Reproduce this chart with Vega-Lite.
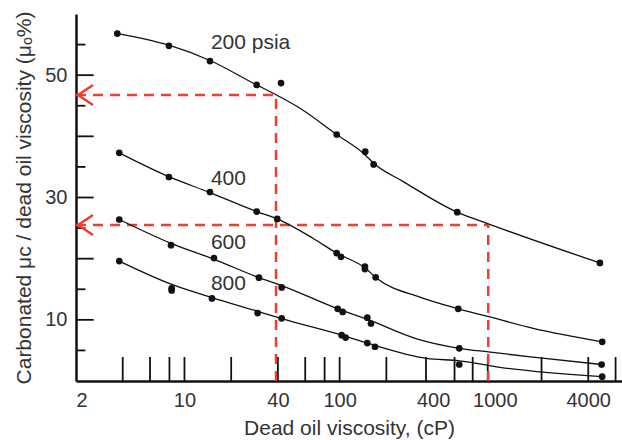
{
  "$schema": "https://vega.github.io/schema/vega-lite/v6.json",
  "width": 546,
  "height": 367,
  "autosize": {"type": "none"},
  "padding": {"left": 76, "top": 14, "right": 0, "bottom": 59},
  "background": "white",
  "config": {
    "view": {"stroke": null},
    "font": "Liberation Sans",
    "text": {"font": "Liberation Sans"}
  },
  "datasets": {
    "points": [
      {"series": "200", "x": 3.69, "y": 56.8}, {"series": "200", "x": 7.94, "y": 54.8}, {"series": "200", "x": 14.6, "y": 52.3},
      {"series": "200", "x": 29.2, "y": 48.4}, {"series": "200", "x": 41.9, "y": 48.7}, {"series": "200", "x": 95.7, "y": 40.3},
      {"series": "200", "x": 146.2, "y": 37.5}, {"series": "200", "x": 165.6, "y": 35.4}, {"series": "200", "x": 572.6, "y": 27.6},
      {"series": "200", "x": 4755, "y": 19.3},
      {"series": "400", "x": 3.8, "y": 37.3}, {"series": "400", "x": 7.94, "y": 33.35}, {"series": "400", "x": 14.6, "y": 30.9},
      {"series": "400", "x": 29.2, "y": 27.7}, {"series": "400", "x": 39.6, "y": 26.5}, {"series": "400", "x": 95.7, "y": 20.9},
      {"series": "400", "x": 102, "y": 20.3}, {"series": "400", "x": 145.5, "y": 18.7}, {"series": "400", "x": 145.5, "y": 18.3},
      {"series": "400", "x": 170.6, "y": 16.95}, {"series": "400", "x": 581, "y": 11.8}, {"series": "400", "x": 4920, "y": 6.4},
      {"series": "600", "x": 3.8, "y": 26.4}, {"series": "600", "x": 8.19, "y": 22.2}, {"series": "600", "x": 15.5, "y": 20.1},
      {"series": "600", "x": 30.2, "y": 16.9}, {"series": "600", "x": 42.3, "y": 15.3}, {"series": "600", "x": 97.1, "y": 11.8},
      {"series": "600", "x": 104.6, "y": 11.3}, {"series": "600", "x": 150.7, "y": 10.35}, {"series": "600", "x": 159.2, "y": 9.4},
      {"series": "600", "x": 590, "y": 5.35}, {"series": "600", "x": 4877, "y": 2.7},
      {"series": "800", "x": 3.8, "y": 19.6}, {"series": "800", "x": 8.27, "y": 15.15}, {"series": "800", "x": 8.27, "y": 14.8},
      {"series": "800", "x": 15.04, "y": 13.5}, {"series": "800", "x": 29.6, "y": 11.1}, {"series": "800", "x": 42.3, "y": 10.25},
      {"series": "800", "x": 103, "y": 7.5}, {"series": "800", "x": 109.3, "y": 7.1}, {"series": "800", "x": 150.7, "y": 6.2},
      {"series": "800", "x": 168.9, "y": 5.6}, {"series": "800", "x": 590, "y": 2.7}, {"series": "800", "x": 4920, "y": 0.7}
    ],
    "curves": [
      {"series": "200", "x": 3.69, "y": 56.8}, {"series": "200", "x": 7.94, "y": 54.9}, {"series": "200", "x": 14.6, "y": 52.4},
      {"series": "200", "x": 29.2, "y": 48.4}, {"series": "200", "x": 38.9, "y": 46.8}, {"series": "200", "x": 55.5, "y": 44.6},
      {"series": "200", "x": 95.7, "y": 40.3}, {"series": "200", "x": 145.5, "y": 37.0}, {"series": "200", "x": 165.6, "y": 35.6},
      {"series": "200", "x": 257, "y": 32.6}, {"series": "200", "x": 572, "y": 27.6}, {"series": "200", "x": 907, "y": 25.7},
      {"series": "200", "x": 4755, "y": 19.3},
      {"series": "400", "x": 3.8, "y": 37.3}, {"series": "400", "x": 7.94, "y": 33.4}, {"series": "400", "x": 14.6, "y": 30.8},
      {"series": "400", "x": 29.2, "y": 27.7}, {"series": "400", "x": 39.6, "y": 26.5}, {"series": "400", "x": 67.6, "y": 23.3},
      {"series": "400", "x": 95.7, "y": 20.9}, {"series": "400", "x": 145.5, "y": 18.5}, {"series": "400", "x": 173.2, "y": 16.8},
      {"series": "400", "x": 329, "y": 13.7}, {"series": "400", "x": 581, "y": 11.8}, {"series": "400", "x": 886, "y": 10.6},
      {"series": "400", "x": 1768, "y": 8.6}, {"series": "400", "x": 4920, "y": 6.4},
      {"series": "600", "x": 3.8, "y": 26.4}, {"series": "600", "x": 8.19, "y": 22.5}, {"series": "600", "x": 15.5, "y": 19.9},
      {"series": "600", "x": 30.2, "y": 16.9}, {"series": "600", "x": 42.3, "y": 15.6}, {"series": "600", "x": 97.1, "y": 11.8},
      {"series": "600", "x": 150, "y": 10.1}, {"series": "600", "x": 313.6, "y": 6.9}, {"series": "600", "x": 590, "y": 5.35},
      {"series": "600", "x": 907, "y": 4.75}, {"series": "600", "x": 1768, "y": 3.9}, {"series": "600", "x": 4877, "y": 2.7},
      {"series": "800", "x": 3.8, "y": 19.6}, {"series": "800", "x": 8.27, "y": 15.8}, {"series": "800", "x": 15.04, "y": 13.65},
      {"series": "800", "x": 29.6, "y": 11.4}, {"series": "800", "x": 42.3, "y": 10.2}, {"series": "800", "x": 103, "y": 7.5},
      {"series": "800", "x": 150.7, "y": 6.2}, {"series": "800", "x": 363.6, "y": 3.7}, {"series": "800", "x": 590, "y": 3.3},
      {"series": "800", "x": 1079, "y": 2.24}, {"series": "800", "x": 4920, "y": 0.7}
    ],
    "labels": [
      {"x": 14.8, "y": 55.2, "label": "200 psia"},
      {"x": 14.8, "y": 33.1, "label": "400"},
      {"x": 14.8, "y": 22.6, "label": "600"},
      {"x": 14.8, "y": 15.8, "label": "800"}
    ],
    "frameticks": [
      {"x": 4, "x2": 4, "y": 0, "y2": 3.92}, {"x": 6, "x2": 6, "y": 0, "y2": 3.92}, {"x": 8, "x2": 8, "y": 0, "y2": 3.92},
      {"x": 10, "x2": 10, "y": 0, "y2": 3.92}, {"x": 20, "x2": 20, "y": 0, "y2": 3.92}, {"x": 40, "x2": 40, "y": 0, "y2": 3.92},
      {"x": 60, "x2": 60, "y": 0, "y2": 3.92}, {"x": 80, "x2": 80, "y": 0, "y2": 3.92}, {"x": 100, "x2": 100, "y": 0, "y2": 3.92},
      {"x": 200, "x2": 200, "y": 0, "y2": 3.92}, {"x": 360, "x2": 360, "y": 0, "y2": 3.92}, {"x": 550, "x2": 550, "y": 0, "y2": 3.92},
      {"x": 720, "x2": 720, "y": 0, "y2": 3.92}, {"x": 900, "x2": 900, "y": 0, "y2": 3.92}, {"x": 2000, "x2": 2000, "y": 0, "y2": 3.92},
      {"x": 4000, "x2": 4000, "y": 0, "y2": 3.92}, {"x": 6000, "x2": 6000, "y": 0, "y2": 3.92},
      {"x": 2, "x2": 2.3, "y": 5, "y2": 5}, {"x": 2, "x2": 2.6, "y": 10, "y2": 10},
      {"x": 2, "x2": 2.3, "y": 15, "y2": 15}, {"x": 2, "x2": 2.6, "y": 20, "y2": 20},
      {"x": 2, "x2": 2.3, "y": 25, "y2": 25}, {"x": 2, "x2": 2.6, "y": 30, "y2": 30},
      {"x": 2, "x2": 2.3, "y": 35, "y2": 35}, {"x": 2, "x2": 2.6, "y": 40, "y2": 40},
      {"x": 2, "x2": 2.3, "y": 45, "y2": 45}, {"x": 2, "x2": 2.6, "y": 50, "y2": 50},
      {"x": 2, "x2": 2.3, "y": 55, "y2": 55}
    ],
    "guides": [
      {"x": 2, "x2": 38.9, "y": 46.75, "y2": 46.75},
      {"x": 38.9, "x2": 38.9, "y": 0, "y2": 46.75},
      {"x": 2, "x2": 907, "y": 25.5, "y2": 25.5},
      {"x": 907, "x2": 907, "y": 0, "y2": 25.5}
    ],
    "arrows": [{"x": 2, "y": 46.75}, {"x": 2, "y": 25.5}]
  },
  "encoding": {
    "x": {
      "field": "x", "type": "quantitative",
      "scale": {"type": "log", "domain": [2, 6600], "nice": false, "zero": false},
      "axis": {
        "values": [2, 10, 40, 100, 400, 1000, 4000], "format": "d",
        "grid": false, "ticks": false, "domain": true, "domainColor": "#111", "domainWidth": 2.5,
        "labelFontSize": 20, "labelColor": "#333", "labelPadding": 9, "labelFont": "Liberation Sans",
        "title": "Dead oil viscosity, (cP)", "titleFontSize": 21, "titleFontWeight": "normal",
        "titleColor": "#333", "titlePadding": 7, "titleFont": "Liberation Sans"
      }
    },
    "y": {
      "field": "y", "type": "quantitative",
      "scale": {"domain": [0, 60], "nice": false, "zero": false},
      "axis": {
        "values": [10, 30, 50],
        "grid": false, "ticks": false,
        "domain": true, "domainColor": "#111", "domainWidth": 2.5,
        "labelFontSize": 20, "labelColor": "#333", "labelPadding": 9, "labelFont": "Liberation Sans",
        "title": "Carbonated μc / dead oil viscosity (μₒ%)", "titleFontSize": 21, "titleFontWeight": "normal",
        "titleColor": "#333", "titlePadding": 10, "titleFont": "Liberation Sans"
      }
    }
  },
  "layer": [
    {
      "data": {"name": "frameticks"},
      "mark": {"type": "rule", "color": "#111", "strokeWidth": 1.8},
      "encoding": {"x2": {"field": "x2"}, "y2": {"field": "y2"}}
    },
    {
      "data": {"values": [{"a": 1}]},
      "mark": {"type": "rule", "color": "#111", "strokeWidth": 2.5},
      "encoding": {"x": {"datum": 2}, "x2": {"datum": 6600}, "y": {"datum": 60}}
    },
    {
      "data": {"name": "guides"},
      "mark": {"type": "rule", "color": "#EE3F2E", "strokeWidth": 2.5, "strokeDash": [10, 7]},
      "encoding": {"x2": {"field": "x2"}, "y2": {"field": "y2"}}
    },
    {
      "data": {"name": "arrows"},
      "mark": {"type": "point", "shape": "M 1.7 -1 L 0.2 0 L 1.7 1", "size": 400, "stroke": "#EE3F2E", "strokeWidth": 2.5, "filled": false, "opacity": 1, "strokeCap": "butt"}
    },
    {
      "data": {"name": "curves"},
      "mark": {"type": "line", "color": "#111", "strokeWidth": 1.3, "interpolate": "monotone"},
      "encoding": {"detail": {"field": "series"}, "order": {"field": "x", "type": "quantitative"}}
    },
    {
      "data": {"name": "points"},
      "mark": {"type": "circle", "color": "#111", "size": 45, "opacity": 1}
    },
    {
      "data": {"name": "labels"},
      "mark": {"type": "text", "align": "left", "baseline": "middle", "fontSize": 21, "color": "#333", "font": "Liberation Sans"},
      "encoding": {"text": {"field": "label"}}
    }
  ]
}
